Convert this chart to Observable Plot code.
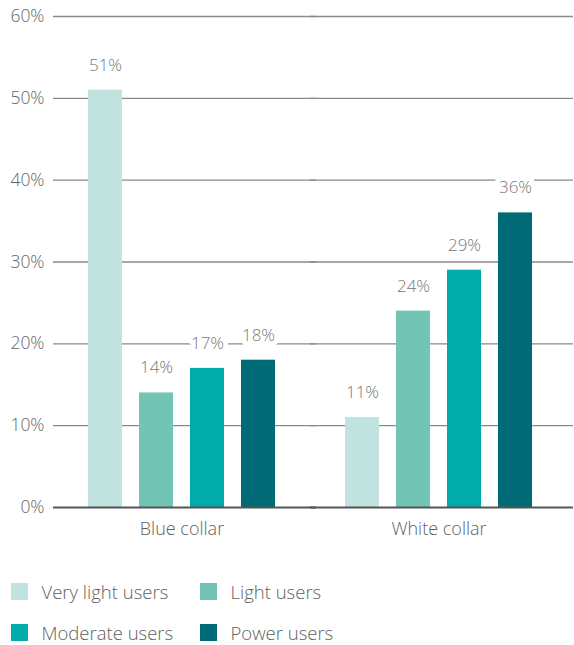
<!DOCTYPE html>
<html>
<head>
<meta charset="utf-8">
<script src="https://cdn.jsdelivr.net/npm/d3@7"></script>
<script src="https://cdn.jsdelivr.net/npm/@observablehq/plot@0.6"></script>
<style>
  html, body { margin: 0; padding: 0; background: #fff; }
  body { width: 574px; font-family: "Open Sans", sans-serif; font-weight: 300; }
  svg text { font-family: "Open Sans", sans-serif; font-weight: 300; }
  .legend { display: grid; grid-template-columns: 189px 200px; row-gap: 16.5px; padding: 29.5px 0 0 11px; }
  .item { display: flex; align-items: center; font-size: 18.5px; color: #5f5f5f; height: 24px; white-space: nowrap; }
  .sw { width: 17px; height: 17px; margin-right: 13.5px; flex: none; }
</style>
</head>
<body>
<div id="chart"></div>
<script>
const groups = ["Blue collar", "White collar"];
const series = ["Very light users", "Light users", "Moderate users", "Power users"];
const blueCollar = [51, 14, 17, 18];
const whiteCollar = [11, 24, 29, 36];
const colors = ["#c0e3e0", "#72c5b4", "#00aba9", "#006b76"];
const yTicks = [0, 10, 20, 30, 40, 50, 60];

const valuesByGroup = [blueCollar, whiteCollar];
const data = groups.flatMap((g, gi) => series.map((s, si) => ({group: g, series: s, value: valuesByGroup[gi][si]})));

const plot = Plot.plot({
  width: 574,
  height: 550,
  marginLeft: 53,
  marginRight: 0,
  marginTop: 16,
  marginBottom: 43,
  style: {fontFamily: "Open Sans, sans-serif", fontSize: "17.5px", color: "#666", background: "#fff"},
  fx: {domain: groups, paddingInner: 0, paddingOuter: 0.0117, align: 0, axis: "bottom", tickSize: 0, tickPadding: 15, label: null},
  x: {domain: series, paddingInner: 0.342, paddingOuter: 0.658, axis: null},
  y: {domain: [0, 60], ticks: yTicks, tickFormat: d => d + "%", tickSize: 0, tickPadding: 9, label: null},
  color: {domain: series, range: colors},
  marks: [
    Plot.ruleY(yTicks.filter(d => d > 0), {stroke: "#8a8a8a", strokeWidth: 1.3, strokeOpacity: 1, insetRight: -6}),
    Plot.barY(data, {fx: "group", x: "series", y: "value", fill: "series"}),
    Plot.ruleY([0], {stroke: "#555", strokeWidth: 2, insetRight: -6}),
    Plot.text(data, {fx: "group", x: "series", y: "value", text: d => d.value + "%", dy: -25, fill: "#777", stroke: "white", strokeWidth: 10, fontSize: 17})
  ]
});
document.getElementById("chart").appendChild(plot);
plot.querySelectorAll("g[aria-label='fx-axis tick label']").forEach(e => { e.setAttribute("font-size", "18"); e.style.fontSize = "18px"; e.setAttribute("fill", "#5f5f5f"); });

const legend = document.createElement("div");
legend.className = "legend";
series.forEach((s, i) => {
  const item = document.createElement("div");
  item.className = "item";
  const sw = document.createElement("span");
  sw.className = "sw";
  sw.style.background = colors[i];
  item.appendChild(sw);
  item.appendChild(document.createTextNode(s));
  legend.appendChild(item);
});
document.body.appendChild(legend);
</script>
</body>
</html>
